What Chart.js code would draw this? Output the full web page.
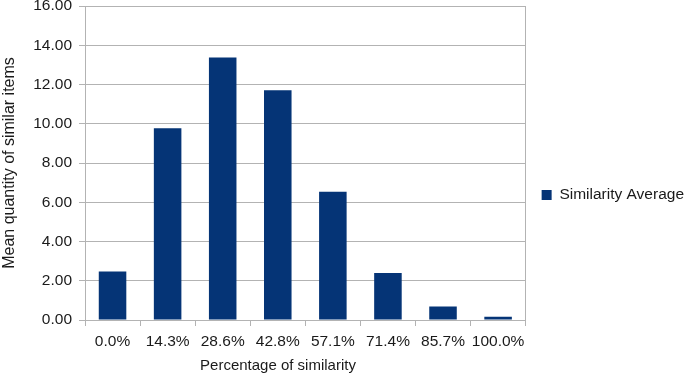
<!DOCTYPE html>
<html>
<head>
<meta charset="utf-8">
<script src="https://cdn.jsdelivr.net/npm/chart.js@4"></script>
<style>
  html, body { margin: 0; padding: 0; background: #ffffff; }
  #wrap { width: 685px; height: 376px; }
</style>
</head>
<body>
<div id="wrap"><canvas id="c" width="685" height="376"></canvas></div>
<script>
const categories = ['0.0%', '14.3%', '28.6%', '42.8%', '57.1%', '71.4%', '85.7%', '100.0%'];
const similarityAverage = [2.47, 9.77, 13.38, 11.71, 6.54, 2.39, 0.69, 0.16];
const seriesName = 'Similarity Average';
const yTitle = 'Mean quantity of similar items';
const xTitle = 'Percentage of similarity';
const yMin = 0, yMax = 16, yStep = 2;

const FONT = "'Liberation Sans', Arial, sans-serif";
const TEXT = '#1a1a1a';
const GRID = '#b3b3b3';
const BAR = '#053476';

const extras = {
  id: 'extras',
  afterLayout(chart) {
    chart.legend.top += 4;
    chart.legend.bottom += 4;
  },
  afterDatasetsDraw(chart) {
    const {ctx, chartArea} = chart;
    ctx.save();
    ctx.strokeStyle = GRID;
    ctx.lineWidth = 1;
    ctx.beginPath();
    const x = Math.round(chartArea.right) - 0.5;
    ctx.moveTo(x, chartArea.top);
    ctx.lineTo(x, chartArea.bottom);
    ctx.stroke();
    ctx.fillStyle = TEXT;
    ctx.font = '15px ' + FONT;
    ctx.textAlign = 'center';
    ctx.textBaseline = 'middle';
    ctx.fillText(xTitle, 278, 366);
    ctx.restore();
  }
};

new Chart(document.getElementById('c'), {
  type: 'bar',
  data: {
    labels: categories,
    datasets: [{
      label: seriesName,
      data: similarityAverage,
      backgroundColor: BAR,
      borderWidth: 0,
      barPercentage: 0.5,
      categoryPercentage: 1.0
    }]
  },
  options: {
    responsive: false,
    animation: false,
    devicePixelRatio: 1,
    layout: { padding: { top: 6, bottom: 0, left: 0, right: -9 } },
    plugins: {
      legend: {
        position: 'right',
        labels: {
          boxWidth: 10,
          boxHeight: 10,
          padding: 16,
          color: TEXT,
          font: { family: FONT, size: 15.5 }
        }
      },
      tooltip: { enabled: false },
      title: { display: false }
    },
    scales: {
      x: {
        grid: {
          display: true,
          drawOnChartArea: false,
          drawTicks: true,
          tickLength: 6,
          color: GRID,
          offset: true
        },
        border: { display: false },
        ticks: {
          color: TEXT,
          font: { family: FONT, size: 15.5 },
          padding: 6,
          maxRotation: 0,
          autoSkip: false
        },
        afterFit(scale) {
          scale.height = 56;
          scale.paddingLeft = 0;
          scale.paddingRight = 0;
        }
      },
      y: {
        min: yMin,
        max: yMax,
        grid: {
          color: GRID,
          tickLength: 6,
          drawTicks: true
        },
        border: { display: true, color: GRID },
        ticks: {
          stepSize: yStep,
          color: TEXT,
          font: { family: FONT, size: 15.5 },
          padding: 7,
          callback: (v) => Number(v).toFixed(2)
        },
        title: {
          display: true,
          text: yTitle,
          color: TEXT,
          font: { family: FONT, size: 16 },
          padding: { top: 0, bottom: 0 }
        },
        afterFit(scale) {
          scale.width = 85;
          scale.paddingTop = 0;
          scale.paddingBottom = 0;
        }
      }
    }
  },
  plugins: [extras]
});
</script>
</body>
</html>
